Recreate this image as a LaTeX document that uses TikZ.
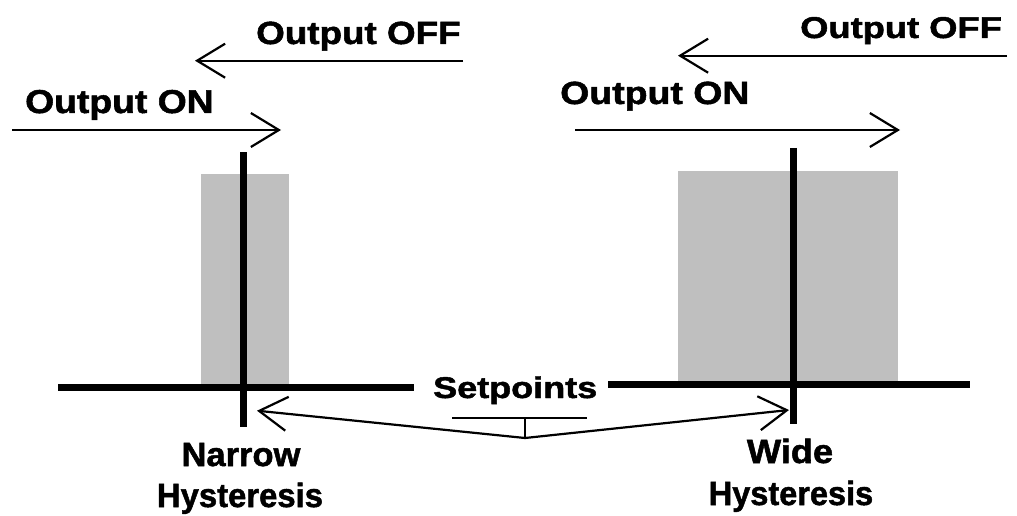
\documentclass[tikz,border=0pt]{standalone}
\usepackage{fontspec}
\setmainfont{Liberation Sans}[BoldFeatures={FakeBold=1.5}]
\usetikzlibrary{arrows.meta}

\tikzset{
  lbl/.style={inner sep=0pt, anchor=base west, font=\bfseries},
  clbl/.style={inner sep=0pt, anchor=base, font=\bfseries},
  thinline/.style={line width=2.2pt},
  heavy/.style={line width=7pt},
  barb/.style={thinline, -{Straight Barb[length=28pt,width=34pt,line join=miter]}},
  band/.style={fill=black!25, draw=none},
}
\newcommand{\fs}[1]{\fontsize{#1}{#1}\selectfont}

\begin{document}
\begin{tikzpicture}[x=1pt,y=-1pt]
  \useasboundingbox (0,0) rectangle (1017,516);

  % hysteresis bands
  \fill[band] (201,174) rectangle (289,387);
  \fill[band] (678,171) rectangle (898,384);

  % process axes and setpoint markers
  \coordinate (axL1) at (58,387.5);
  \coordinate (axL2) at (414,387.5);
  \coordinate (axR1) at (608,384.5);
  \coordinate (axR2) at (970,384.5);
  \coordinate (spL1) at (243,152);
  \coordinate (spL2) at (243,427);
  \coordinate (spR1) at (793,148);
  \coordinate (spR2) at (793,424);
  \draw[heavy] (axL1) -- (axL2);
  \draw[heavy] (axR1) -- (axR2);
  \draw[heavy] (spL1) -- (spL2);
  \draw[heavy] (spR1) -- (spR2);

  % switching direction arrows
  \coordinate (offLs) at (463,60.7);
  \coordinate (offLe) at (195,60.7);
  \coordinate (onLs)  at (12,130);
  \coordinate (onLe)  at (281,130);
  \coordinate (offRs) at (1007,55.7);
  \coordinate (offRe) at (678,55.7);
  \coordinate (onRs)  at (575,130);
  \coordinate (onRe)  at (900,130);
  \draw[barb] (offLs) -- (offLe);
  \draw[barb] (onLs) -- (onLe);
  \draw[barb] (offRs) -- (offRe);
  \draw[barb] (onRs) -- (onRe);

  \node[lbl] (offL) at (256,44) {\fs{32}\scalebox{1.15}[1]{Output OFF}};
  \node[lbl] (onL)  at (25,113) {\fs{33}\scalebox{1.13}[1]{Output ON}};
  \node[lbl] (offR) at (800,38) {\fs{30}\scalebox{1.21}[1]{Output OFF}};
  \node[lbl] (onR)  at (560,104) {\fs{32}\scalebox{1.17}[1]{Output ON}};

  % setpoint callout
  \node[lbl] (sp) at (433,398) {\fs{30}\scalebox{1.20}[1]{Setpoints}};
  \coordinate (brL) at (452,418);
  \coordinate (brR) at (587,418);
  \coordinate (brM) at (525,418);
  \coordinate (junc) at (525,438);
  \coordinate (tipL) at (257,410.7);
  \coordinate (tipR) at (789,410);
  \draw[thinline] (brL) -- (brR);
  \draw[thinline] (brM) -- (junc);
  \draw[barb] (junc) -- (tipL);
  \draw[barb] (junc) -- (tipR);

  % captions
  \node[clbl] (nar) at (241,466) {\fs{33.5}\scalebox{1.03}[1]{Narrow}};
  \node[clbl] (hysL) at (240,507) {\fs{33.5}\scalebox{0.98}[1]{Hysteresis}};
  \node[clbl] (wide) at (790,463) {\fs{33.5}\scalebox{1.08}[1]{Wide}};
  \node[clbl] (hysR) at (791,505) {\fs{33.5}\scalebox{0.97}[1]{Hysteresis}};
\end{tikzpicture}
\end{document}
